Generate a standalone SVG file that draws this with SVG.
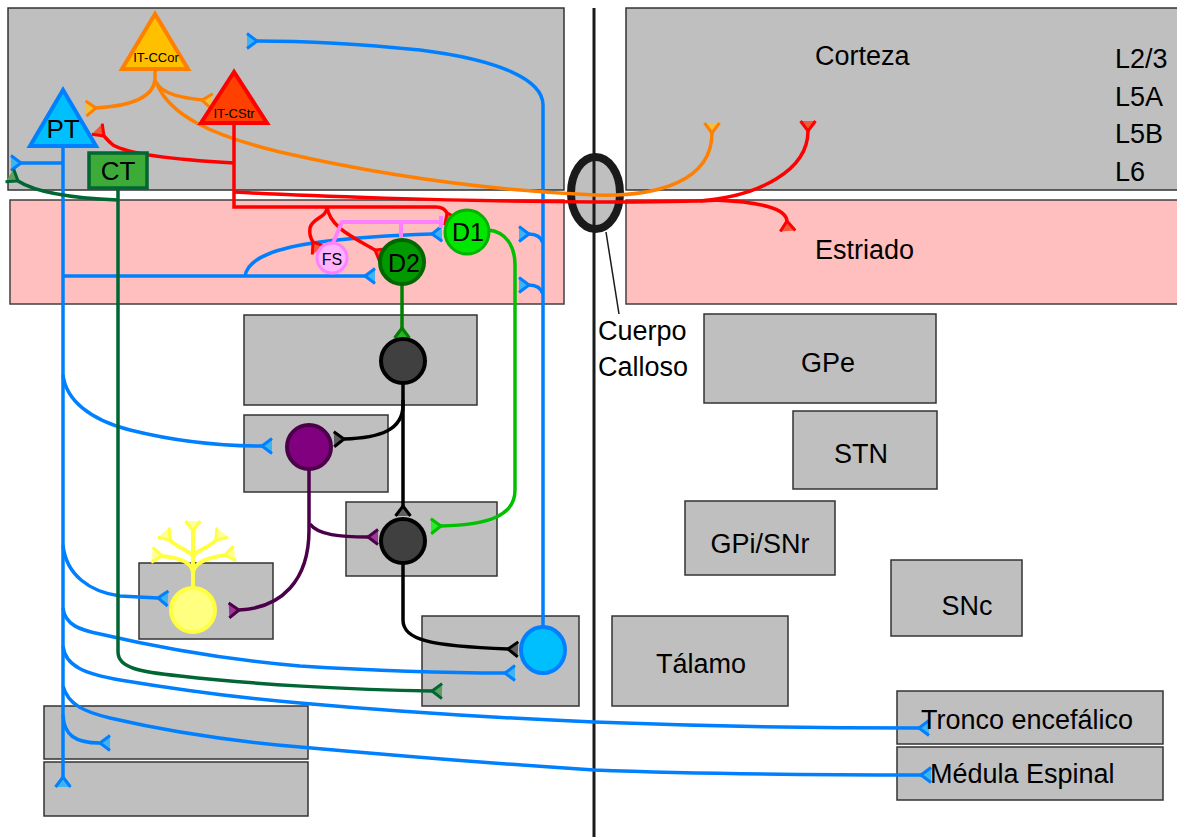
<svg xmlns="http://www.w3.org/2000/svg" width="1177" height="837" viewBox="0 0 1177 837">
  <style>
    .box { fill: #bfbfbf; stroke: #333333; stroke-width: 1.5; }
    .str { fill: #ffbfbf; stroke: #404040; stroke-width: 1.5; }
    .lbl { font-family: "Liberation Sans", Arial, sans-serif; font-size: 27px; fill: #000; }
    .nlbl { font-family: "Liberation Sans", Arial, sans-serif; fill: #000; text-anchor: middle; }
    .ax { fill: none; stroke-width: 3.5; }
    .blue { stroke: #0080ff; }
    .red { stroke: #ff0000; }
    .orange { stroke: #ff8000; }
    .g1 { stroke: #00c000; }
    .g2 { stroke: #008000; }
    .ct { stroke: #006633; }
    .blk { stroke: #000000; }
    .pur { stroke: #4b0049; }
    .yel { stroke: #ffff40; stroke-width: 4; }
    .pink { stroke: #ff80ff; stroke-width: 4; fill: none; }
    .tip { stroke-width: 3; fill: none; }
  </style>
  <defs>
    <!-- synaptic terminal: open triangle beyond the end of the axon -->
    <marker id="mb" markerUnits="userSpaceOnUse" markerWidth="20" markerHeight="20" orient="auto" overflow="visible">
      <path d="M0,0 L10,-7.5 L10,7.5 Z" fill="#40b4f0"/><path class="tip" d="M10,-7.5 L0,0 L10,7.5" stroke="#0080ff"/>
    </marker>
    <marker id="mr" markerUnits="userSpaceOnUse" markerWidth="20" markerHeight="20" orient="auto" overflow="visible">
      <path d="M0,0 L10,-7.5 L10,7.5 Z" fill="#f05a3c"/><path class="tip" d="M10,-7.5 L0,0 L10,7.5" stroke="#ff0000"/>
    </marker>
    <marker id="mo" markerUnits="userSpaceOnUse" markerWidth="20" markerHeight="20" orient="auto" overflow="visible">
      <path d="M0,0 L10,-7.5 L10,7.5 Z" fill="#f0c040"/><path class="tip" d="M10,-7.5 L0,0 L10,7.5" stroke="#ff8000"/>
    </marker>
    <marker id="mg1" markerUnits="userSpaceOnUse" markerWidth="20" markerHeight="20" orient="auto" overflow="visible">
      <path d="M0,0 L10,-7.5 L10,7.5 Z" fill="#30e830"/><path class="tip" d="M10,-7.5 L0,0 L10,7.5" stroke="#00c000"/>
    </marker>
    <marker id="mg2" markerUnits="userSpaceOnUse" markerWidth="20" markerHeight="20" orient="auto" overflow="visible">
      <path d="M0,0 L10,-7.5 L10,7.5 Z" fill="#30b030"/><path class="tip" d="M10,-7.5 L0,0 L10,7.5" stroke="#008000"/>
    </marker>
    <marker id="mct" markerUnits="userSpaceOnUse" markerWidth="20" markerHeight="20" orient="auto" overflow="visible">
      <path d="M0,0 L10,-7.5 L10,7.5 Z" fill="#5fa05f"/><path class="tip" d="M10,-7.5 L0,0 L10,7.5" stroke="#006633"/>
    </marker>
    <marker id="mk" markerUnits="userSpaceOnUse" markerWidth="20" markerHeight="20" orient="auto" overflow="visible">
      <path d="M0,0 L10,-7.5 L10,7.5 Z" fill="#606060"/><path class="tip" d="M10,-7.5 L0,0 L10,7.5" stroke="#000000"/>
    </marker>
    <marker id="mp" markerUnits="userSpaceOnUse" markerWidth="20" markerHeight="20" orient="auto" overflow="visible">
      <path d="M0,0 L10,-7.5 L10,7.5 Z" fill="#9c3a96"/><path class="tip" d="M10,-7.5 L0,0 L10,7.5" stroke="#4b0049"/>
    </marker>
    <marker id="my" markerUnits="userSpaceOnUse" markerWidth="20" markerHeight="20" orient="auto" overflow="visible">
      <path d="M0,0 L10,-7.5 L10,7.5 Z" fill="#ffff99"/><path class="tip" d="M10,-7.5 L0,0 L10,7.5" stroke="#ffff40"/>
    </marker>
  </defs>

  <rect width="1177" height="837" fill="#ffffff"/>

  <!-- brain regions -->
  <g id="regions">
    <rect id="corteza-izq" class="box" x="8" y="8" width="556" height="182"/>
    <rect id="corteza-der" class="box" x="626" y="8" width="560" height="182"/>
    <rect id="estriado-izq" class="str" x="10" y="200" width="554" height="104"/>
    <rect id="estriado-der" class="str" x="626" y="200" width="560" height="104"/>
    <rect id="gpe-izq" class="box" x="244" y="315" width="233" height="90"/>
    <rect id="stn-izq" class="box" x="244" y="415" width="144" height="77"/>
    <rect id="gpi-izq" class="box" x="346" y="502" width="151" height="74"/>
    <rect id="snc-izq" class="box" x="139" y="563" width="134" height="76"/>
    <rect id="talamo-izq" class="box" x="422" y="616" width="157" height="90"/>
    <rect id="tronco-izq" class="box" x="44" y="706" width="264" height="53"/>
    <rect id="medula-izq" class="box" x="44" y="762" width="264" height="54"/>
    <rect id="gpe" class="box" x="704" y="314" width="232" height="89"/>
    <rect id="stn" class="box" x="793" y="411" width="144" height="78"/>
    <rect id="gpi" class="box" x="685" y="501" width="150" height="74"/>
    <rect id="snc" class="box" x="891" y="560" width="131" height="76"/>
    <rect id="talamo" class="box" x="612" y="616" width="176" height="90"/>
    <rect id="tronco" class="box" x="897" y="691" width="266" height="53"/>
    <rect id="medula" class="box" x="897" y="747" width="266" height="53"/>
  </g>

  <!-- corpus callosum and midline -->
  <g id="cuerpo-calloso">
    <ellipse cx="595.5" cy="193" rx="24.5" ry="36" fill="#bfbfbf" stroke="#1a1a1a" stroke-width="8"/>
    <line x1="594" y1="8" x2="594" y2="837" stroke="#1a1a1a" stroke-width="3"/>
    <line x1="606" y1="232" x2="619" y2="314" stroke="#1a1a1a" stroke-width="1.5"/>
  </g>

  <!-- axons and synaptic terminals -->
  <g id="connectors">
    <!-- PT -->
    <path class="ax blue" d="M63,147 V777" marker-end="url(#mb)"/>
    <path class="ax blue" d="M63,163 H21" marker-end="url(#mb)"/>
    <path class="ax blue" d="M63,276 H365" marker-end="url(#mb)"/>
    <path class="ax blue" d="M245,276 C248,258 275,248 320,242 C360,237 400,235 432,234" marker-end="url(#mb)"/>
    <path class="ax blue" d="M63,375 C66,400 90,420 130,430 C170,440 210,446 262,446" marker-end="url(#mb)"/>
    <path class="ax blue" d="M63,545 C66,575 90,592 120,596 L158,598" marker-end="url(#mb)"/>
    <path class="ax blue" d="M63,608 C65,625 80,630 100,634 C160,648 230,660 300,666 C380,671 450,673 505,673" marker-end="url(#mb)"/>
    <path class="ax blue" d="M63,646 C65,666 85,674 120,680 C180,690 240,698 300,703 C400,712 500,718 594,722 C700,726 800,728 919,728" marker-end="url(#mb)"/>
    <path class="ax blue" d="M63,686 C68,705 85,712 110,718 C170,732 230,741 300,747 C400,756 500,764 594,770 C700,774 820,775 921,775" marker-end="url(#mb)"/>
    <path class="ax blue" d="M63,715 C64,735 75,743 100,743" marker-end="url(#mb)"/>
    <!-- thalamic neuron back to cortex -->
    <path class="ax blue" d="M543,627 V105 C543,80 500,60 420,50 C360,44 300,41 257,41" marker-end="url(#mb)"/>
    <path class="ax blue" d="M543,243 C541,237 536,234 529,234" marker-end="url(#mb)"/>
    <path class="ax blue" d="M543,294 C541,288 536,285 529,285" marker-end="url(#mb)"/>

    <!-- IT-CCor -->
    <path class="ax orange" d="M155,70 V82"/>
    <path class="ax orange" d="M155,80 C153,98 130,106 96,108" marker-end="url(#mo)"/>
    <path class="ax orange" d="M156,82 C162,95 185,98 202,100" marker-end="url(#mo)"/>
    <path class="ax orange" d="M157,84 C170,115 210,135 280,152 C380,175 480,190 595,195 C660,197 712,180 712,133" marker-end="url(#mo)"/>

    <!-- IT-CStr -->
    <path class="ax red" d="M234,124 V207 H436 C442,207 445,209 447,213" marker-end="url(#mr)"/>
    <path class="ax red" d="M234,163 C180,160 130,155 113,145 C108,141 106,138 104,136" marker-end="url(#mr)"/>
    <path class="ax red" d="M234,192 C300,196 450,201 595,202 C640,202 680,202 720,200" />
    <path class="ax red" d="M700,201 C760,196 808,170 808,131" marker-end="url(#mr)"/>
    <path class="ax red" d="M715,200 C760,202 786,208 787,221" marker-end="url(#mr)"/>
    <path class="ax red" d="M327,207 C327,218 312,218 310,228 C309,235 311,239 313,242" marker-end="url(#mr)"/>
    <path class="ax red" d="M327,207 C330,228 355,238 375,250" marker-end="url(#mr)"/>

    <!-- FS interneuron -->
    <path class="pink" d="M333,243 L342,222 H441 M441,216 V228 M401,222 V238"/>

    <!-- CT -->
    <path class="ax ct" d="M118,189 V652 C118,668 140,672 180,676 C250,684 350,690 432,691" marker-end="url(#mct)"/>
    <path class="ax ct" d="M118,200 C70,198 35,192 18,181" marker-end="url(#mct)"/>

    <!-- D1 direct pathway -->
    <path class="ax g1" d="M489,230 C505,232 515,245 515,265 V490 C515,515 490,525 441,526" marker-end="url(#mg1)"/>
    <!-- D2 indirect pathway -->
    <path class="ax g2" d="M402,284 V328" marker-end="url(#mg2)"/>

    <!-- GPe / STN / GPi / thalamus loop -->
    <path class="ax blk" d="M403,383 V405 C403,430 380,438 344,439" marker-end="url(#mk)"/>
    <path class="ax blk" d="M403,400 V506" marker-end="url(#mk)"/>
    <path class="ax blk" d="M403,563 V620 C403,640 430,646 508,649" marker-end="url(#mk)"/>
    <path class="ax pur" d="M309,469 V530 C309,580 282,608 239,610" marker-end="url(#mp)"/>
    <path class="ax pur" d="M310,524 C318,535 340,537 368,537" marker-end="url(#mp)"/>
  </g>

  <!-- neurons -->
  <g id="it-ccor">
    <polygon points="155,14 122,69 188,69" fill="#ffc000" stroke="#ff8000" stroke-width="4"/>
    <text class="nlbl" x="156" y="62" font-size="13">IT-CCor</text>
  </g>
  <g id="it-cstr">
    <polygon points="234,72 201,123 267,123" fill="#ff4000" stroke="#ff0000" stroke-width="4"/>
    <text class="nlbl" x="234" y="118" font-size="13">IT-CStr</text>
  </g>
  <g id="pt">
    <polygon points="63,90 30,146 96,146" fill="#00bfff" stroke="#0080ff" stroke-width="4"/>
    <text class="nlbl" x="63" y="138" font-size="26">PT</text>
  </g>
  <g id="ct">
    <rect x="89" y="153" width="58" height="35" fill="#3cab37" stroke="#006633" stroke-width="3.5"/>
    <text class="nlbl" x="118" y="180" font-size="26">CT</text>
  </g>
  <g id="fs">
    <circle cx="332" cy="258" r="15" fill="#ffb3ff" stroke="#ff80ff" stroke-width="3"/>
    <text class="nlbl" x="332" y="265" font-size="16">FS</text>
  </g>
  <g id="d1">
    <circle cx="467" cy="232" r="22" fill="#00e600" stroke="#00b300" stroke-width="3"/>
    <text class="nlbl" x="468" y="241" font-size="25">D1</text>
  </g>
  <g id="d2">
    <circle cx="402" cy="262" r="22" fill="#009900" stroke="#006600" stroke-width="4"/>
    <text class="nlbl" x="404" y="272" font-size="25">D2</text>
  </g>
  <g id="gpe-neurona">
    <circle cx="403" cy="361" r="22" fill="#404040" stroke="#000" stroke-width="4"/>
  </g>
  <g id="stn-neurona">
    <circle cx="309" cy="447" r="22" fill="#800080" stroke="#4b0049" stroke-width="4"/>
  </g>
  <g id="gpi-neurona">
    <circle cx="403" cy="541" r="22" fill="#404040" stroke="#000" stroke-width="4"/>
  </g>
  <g id="snc-neurona">
    <path class="ax yel" d="M193,588 V562"/>
    <path class="ax yel" d="M193,574 C193,562 180,558 162,556" marker-end="url(#my)"/>
    <path class="ax yel" d="M193,574 C193,562 208,558 225,555" marker-end="url(#my)"/>
    <path class="ax yel" d="M193,565 V531" marker-end="url(#my)"/>
    <path class="ax yel" d="M193,556 C188,550 176,547 170,540" marker-end="url(#my)"/>
    <path class="ax yel" d="M193,556 C198,550 210,547 216,540" marker-end="url(#my)"/>
    <circle cx="193" cy="610" r="22" fill="#ffff80" stroke="#ffff40" stroke-width="4"/>
  </g>
  <g id="talamo-neurona">
    <ellipse cx="543" cy="650" rx="22" ry="23" fill="#00bfff" stroke="#0080ff" stroke-width="4"/>
  </g>

  <!-- region labels -->
  <g id="labels">
    <text class="lbl" x="815" y="65">Corteza</text>
    <text class="lbl" x="1115" y="68">L2/3</text>
    <text class="lbl" x="1115" y="106">L5A</text>
    <text class="lbl" x="1115" y="143">L5B</text>
    <text class="lbl" x="1115" y="181">L6</text>
    <text class="lbl" x="815" y="259">Estriado</text>
    <text class="lbl" x="598" y="340">Cuerpo</text>
    <text class="lbl" x="598" y="376">Calloso</text>
    <text class="lbl" x="828" y="372" text-anchor="middle">GPe</text>
    <text class="lbl" x="861" y="463" text-anchor="middle">STN</text>
    <text class="lbl" x="760" y="553" text-anchor="middle">GPi/SNr</text>
    <text class="lbl" x="967" y="615" text-anchor="middle">SNc</text>
    <text class="lbl" x="701" y="673" text-anchor="middle">Tálamo</text>
    <text class="lbl" x="921" y="729">Tronco encefálico</text>
    <text class="lbl" x="930" y="783">Médula Espinal</text>
  </g>
</svg>
